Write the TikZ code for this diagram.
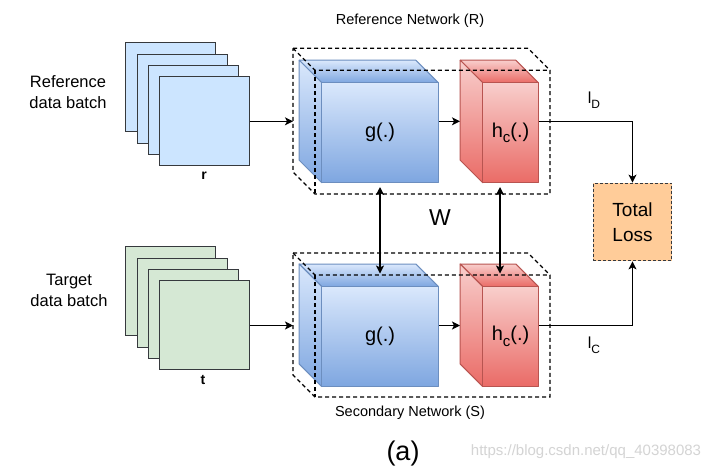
\documentclass[tikz,border=0pt]{standalone}
\usepackage{fontspec}
\setmainfont{Liberation Sans}
\usetikzlibrary{arrows.meta,calc}
\definecolor{cardblue}{HTML}{CCE5FF}
\definecolor{cardgreen}{HTML}{D5E8D4}
\definecolor{cardstroke}{HTML}{36393D}
\definecolor{bluetop}{HTML}{DAE8FC}
\definecolor{bluebot}{HTML}{7EA6E0}
\definecolor{bluestroke}{HTML}{6C8EBF}
\definecolor{redtop}{HTML}{F8CECC}
\definecolor{redbot}{HTML}{EA6B66}
\definecolor{redstroke}{HTML}{B85450}
\definecolor{lossfill}{HTML}{FFCC99}
\definecolor{wmark}{HTML}{D4D4D4}
% front top-left x, y, front bottom-right x, y, offset, style
\newcommand\cubesides[6]{%
  \path[#6] (#1,#2) -- (#1-#5,#2-#5) -- (#3-#5,#2-#5) -- (#3,#2) -- cycle;
  \path[#6] (#1,#2) -- (#1-#5,#2-#5) -- (#1-#5,#4-#5) -- (#1,#4) -- cycle;
}
% dashed outer box: back top-left x, y, front right x, front bottom y, offset
\newcommand\netbox[5]{%
  \draw[netline] (#1,#2) -- (#3-#5,#2) -- (#3,#2+#5) -- (#3,#4) -- (#1+#5,#4) -- (#1,#4-#5) -- cycle;
  \draw[netline] (#1,#2) -- (#1+#5,#2+#5) -- (#3,#2+#5);
  \draw[netline] (#1+#5,#2+#5) -- (#1+#5,#4);
}
\newcommand\hcsub{h\raisebox{-0.28em}{\fontsize{15}{15}\selectfont c}(.)}
\begin{document}
\begin{tikzpicture}[x=1pt,y=-1pt,
  card/.style={draw=cardstroke,line width=0.9pt,minimum width=90pt,minimum height=89pt,inner sep=0pt},
  bcard/.style={card,fill=cardblue},
  gcard/.style={card,fill=cardgreen},
  bluef/.style={draw=bluestroke,line width=1pt,top color=bluetop,bottom color=bluebot,line join=round},
  redf/.style={draw=redstroke,line width=1pt,top color=redtop,bottom color=redbot,line join=round},
  gbox/.style={bluef,minimum width=116.6pt,minimum height=100pt,inner sep=0pt,font=\fontsize{20}{24}\selectfont},
  hbox/.style={redf,minimum width=55.6pt,minimum height=100pt,inner sep=0pt,font=\fontsize{20}{24}\selectfont},
  netline/.style={draw=black,line width=1.2pt,dash pattern=on 4pt off 3pt},
  arr/.style={line width=1.2pt,-{Stealth[length=8pt,width=8pt,inset=2pt]}},
  darr/.style={line width=1.2pt,{Stealth[length=8pt,width=8pt,inset=2pt]}-{Stealth[length=8pt,width=8pt,inset=2pt]}},
  lbl/.style={font=\fontsize{16.5}{21}\selectfont,align=center},
  title/.style={font=\fontsize{14.5}{17}\selectfont},
  sub/.style={font=\fontsize{14}{17}\selectfont}
]
\useasboundingbox (0,0) rectangle (721,467);
\fill[white] (0,0) rectangle (721,467);

% data batches
\node[bcard] (r1) at (170.9,87.3) {};
\node[bcard] (r2) at (182.0,98.6) {};
\node[bcard] (r3) at (193.2,109.9) {};
\node[bcard] (r4) at (204.3,121.3) {};
\node[gcard] (t1) at (170.9,291.3) {};
\node[gcard] (t2) at (182.0,302.6) {};
\node[gcard] (t3) at (193.2,313.9) {};
\node[gcard] (t4) at (204.3,325.0) {};
\node[font=\fontsize{14}{17}\selectfont\bfseries] (rl) at (204,176) {r};
\node[font=\fontsize{14}{17}\selectfont\bfseries] (tl) at (203,380) {t};
\node[lbl] (reflbl) at (68,92.5) {Reference\\data batch};
\node[lbl] (tarlbl) at (69,290) {Target\\data batch};

% cubes
\cubesides{321.7}{82.7}{438.3}{182.7}{22.5}{bluef}
\node[gbox] (g1) at (380,132.7) {g(.)};
\cubesides{482.7}{82.7}{538.3}{182.7}{22.5}{redf}
\node[hbox] (h1) at (510.5,132.7) {\hcsub};
\cubesides{321.7}{286.5}{438.3}{386.5}{22.5}{bluef}
\node[gbox] (g2) at (380,336.5) {g(.)};
\cubesides{482.7}{286.5}{538.3}{386.5}{22.5}{redf}
\node[hbox] (h2) at (510.5,336.5) {\hcsub};

% network boxes
\netbox{293}{48.3}{550}{194}{22}
\netbox{293}{253}{550}{397}{22}

\node[title] (rtitle) at (410,21) {Reference Network (R)};
\node[title] (stitle) at (410,413) {Secondary Network (S)};
\node[font=\fontsize{23}{26}\selectfont] (wl) at (440,218) {W};
\node[font=\fontsize{27}{30}\selectfont,anchor=base] (al) at (403,460) {(a)};
\node[font=\fontsize{15}{18}\selectfont,text=wmark,anchor=base] (wm) at (586,455) {https://blog.csdn.net/qq\_40398083};

% loss
\node[draw=cardstroke,fill=lossfill,line width=1pt,dash pattern=on 3pt off 2pt,minimum width=78.4pt,minimum height=77.7pt,align=center,font=\fontsize{19}{25}\selectfont] (loss) at (632.5,222) {Total\\Loss};

% connectors
\coordinate (Rin) at (293,121.3);
\coordinate (Sin) at (293,325.5);
\coordinate (hR) at (460,121.3);
\coordinate (hS) at (460,325.5);
\draw[arr] (r4.east) -- (Rin);
\draw[arr] (t4.east |- Sin) -- (Sin);
\draw[arr] (g1.east |- Rin) -- (hR);
\draw[arr] (g2.east |- Sin) -- (hS);
\draw[arr] (h1.east |- Rin) -| (loss.north);
\draw[arr] (h2.east |- Sin) -| (loss.south);
\coordinate (v1a) at (380,187);
\coordinate (v1b) at (380,273.5);
\coordinate (v2a) at (500,187);
\coordinate (v2b) at (500,273.5);
\draw[darr] (v1a) -- (v1b);
\draw[darr] (v2a) -- (v2b);

\node[font=\fontsize{16}{18}\selectfont] (ld) at (594,100) {l\raisebox{-0.3em}{\fontsize{12}{12}\selectfont D}};
\node[font=\fontsize{16}{18}\selectfont] (lc) at (594,345) {l\raisebox{-0.3em}{\fontsize{12}{12}\selectfont C}};
\end{tikzpicture}
\end{document}
